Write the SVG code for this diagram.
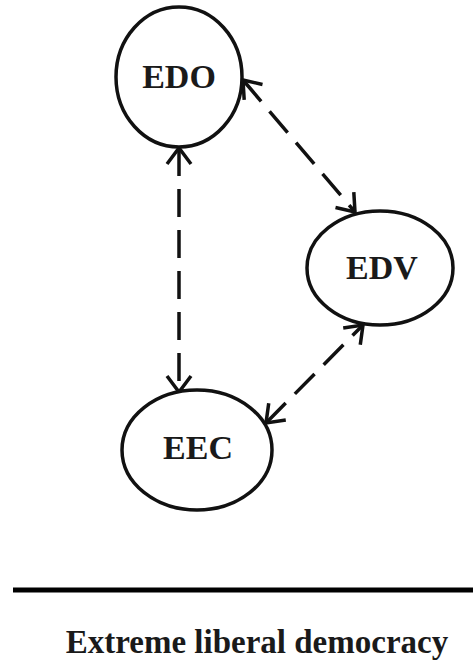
<svg xmlns="http://www.w3.org/2000/svg" width="473" height="661" viewBox="0 0 473 661">
<defs>
<marker id="arr" markerUnits="userSpaceOnUse" viewBox="-20 -16 24 32" refX="0" refY="0" markerWidth="24" markerHeight="32" orient="auto-start-reverse" overflow="visible">
<path d="M-16,-12 L0,0 L-16,12" fill="none" stroke="#111" stroke-width="3.5" stroke-linejoin="miter"/>
</marker>
<style>
.node ellipse{fill:#fff;stroke:#111;stroke-width:3.5}
.node text{font-family:"Liberation Serif","Times New Roman",serif;font-weight:bold;font-size:34px;fill:#1a1a1a;text-anchor:middle}
.conn line{stroke:#111;stroke-width:3.5;stroke-dasharray:28 13;marker-start:url(#arr);marker-end:url(#arr)}
</style>
</defs>
<rect width="473" height="661" fill="#fff"/>
<g id="connectors" class="conn">
<line x1="179" y1="148" x2="179" y2="392"/>
<line x1="243" y1="80" x2="355" y2="212"/>
<line x1="266" y1="423" x2="363" y2="325"/>
</g>
<g id="EDO" class="node">
<ellipse cx="179" cy="77" rx="63" ry="70"/>
<text x="179" y="88">EDO</text>
</g>
<g id="EDV" class="node">
<ellipse cx="380" cy="268" rx="73" ry="57"/>
<text x="382" y="279">EDV</text>
</g>
<g id="EEC" class="node">
<ellipse cx="197" cy="450" rx="75" ry="60"/>
<text x="198" y="459">EEC</text>
</g>
<g id="legend">
<line x1="13" y1="590" x2="473" y2="590" stroke="#000" stroke-width="5"/>
<text x="257" y="653" font-family="Liberation Serif, Times New Roman, serif" font-weight="bold" font-size="33" fill="#1a1a1a" text-anchor="middle">Extreme liberal democracy</text>
</g>
</svg>
